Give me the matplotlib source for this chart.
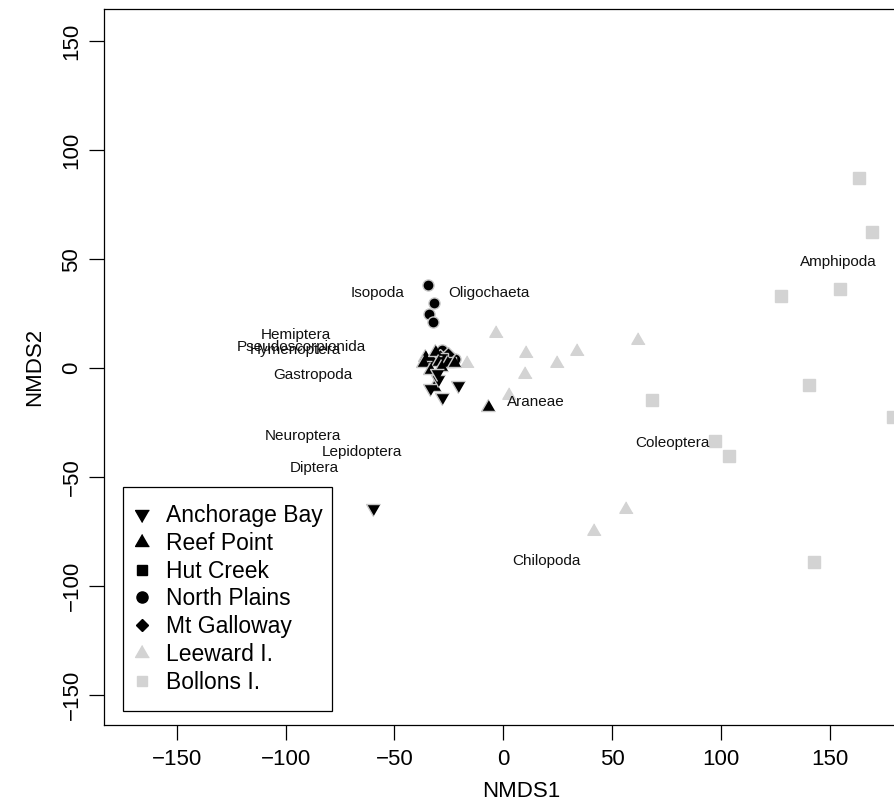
import matplotlib
matplotlib.use("Agg")
import matplotlib.pyplot as plt
from matplotlib.lines import Line2D
from matplotlib.patches import Rectangle

plt.rcParams['font.family'] = ['Liberation Sans', 'DejaVu Sans']

# site scores (NMDS1, NMDS2)
anch_x = [-29.9, -20.7, -33.7, -28.0, -30.6, -59.7]
anch_y = [-5.2, -7.8, -9.3, -13.2, -2.4, -64.4]
reef_x = [-36.0, -31.4, -36.7, -29.9, -26.0, -22.5, -31.7, -6.9, -33.7, -28.8]
reef_y = [5.2, 7.5, 2.2, 2.9, 2.4, 2.2, -8.9, -17.8, -0.9, 0.5]
hut_x = [-27.5, -24.0]
hut_y = [4.5, 3.0]
north_x = [-34.4, -31.8, -34.0, -32.2, -28.3, -24.5, -22.2]
north_y = [38.1, 29.7, 24.7, 21.0, 8.3, 4.9, 4.0]
galloway_x = [-29.0, -25.5, -33.0]
galloway_y = [5.5, 6.5, 3.5]
leeward_x = [-3.4, 10.4, 9.9, 24.5, 33.7, 61.7, -16.8, 2.5, 56.4, 41.8]
leeward_y = [16.2, 7.0, -2.9, 2.2, 7.9, 12.9, 2.4, -12.4, -64.9, -74.9]
bollons_x = [163.6, 169.5, 154.8, 127.7, 140.6, 179.0, 68.4, 97.4, 103.8, 142.7]
bollons_y = [87.1, 62.3, 36.2, 33.1, -7.9, -22.5, -14.7, -33.4, -40.4, -89.1]

# taxa scores
taxa = ['Amphipoda', 'Coleoptera', 'Chilopoda', 'Araneae', 'Isopoda', 'Oligochaeta',
        'Hemiptera', 'Pseudoscorpionida', 'Hymenoptera', 'Gastropoda',
        'Neuroptera', 'Lepidoptera', 'Diptera']
taxa_x = [153.7, 77.5, 19.6, 14.9, -57.8, -6.6, -95.3, -92.6, -95.4, -87.3, -91.9, -64.8, -86.6]
taxa_y = [48.7, -34.6, -88.7, -15.6, 34.6, 34.6, 15.2, 9.5, 8.3, -3.2, -31.2, -38.7, -46.1]

site_names = ['Anchorage Bay', 'Reef Point', 'Hut Creek', 'North Plains',
              'Mt Galloway', 'Leeward I.', 'Bollons I.']

grey = '#d3d3d3'
edge = '#c8c8c8'
tri_up = [(0, 1), (-0.866, -0.5), (0.866, -0.5)]
tri_dn = [(0, -1), (-0.866, 0.5), (0.866, 0.5)]

W, H = 895, 809
fig = plt.figure(figsize=(W / 100, H / 100), dpi=100)
ax = fig.add_axes([0.1162, 0.1042, 0.9326, 0.8847])

# grey islands first
ax.plot(leeward_x, leeward_y, linestyle='none', marker=tri_up, ms=11, color=grey, mec=grey)
ax.plot(bollons_x, bollons_y, linestyle='none', marker='s', ms=8, color=grey, mec=grey)

# black sites with light outline
kw = dict(linestyle='none', color='black', mec=edge, mew=1)
ax.plot(north_x, north_y, marker='o', ms=8, **kw)
ax.plot(galloway_x, galloway_y, marker='D', ms=7, **kw)
ax.plot(hut_x, hut_y, marker='s', ms=7.5, **kw)
ax.plot(reef_x, reef_y, marker=tri_up, ms=11.5, **kw)
ax.plot(anch_x, anch_y, marker=tri_dn, ms=11.5, **kw)

for name, x, y in zip(taxa, taxa_x, taxa_y):
    ax.text(x, y, name, fontsize=11, ha='center', va='center', color='#111111')

ax.set_xlim(-183.4, 200)
ax.set_ylim(-163.8, 164.9)
ax.set_xticks([-150, -100, -50, 0, 50, 100, 150])
ax.set_yticks([-150, -100, -50, 0, 50, 100, 150])
ax.tick_params(direction='out', length=10.5, width=0.9, labelsize=16)
ax.tick_params(axis='x', pad=7)
ax.tick_params(axis='y', pad=5)
for lbl in ax.get_yticklabels():
    lbl.set_rotation(90)
    lbl.set_va('center')
for sp in ax.spines.values():
    sp.set_linewidth(0.9)

ax.set_xlabel('NMDS1', fontsize=16, labelpad=8)
ax.set_ylabel('NMDS2', fontsize=16, labelpad=12)

# legend (frame drawn separately so the box matches the original)
handles = [
    Line2D([], [], linestyle='none', marker=tri_dn, ms=11.5, color='black'),
    Line2D([], [], linestyle='none', marker=tri_up, ms=11.5, color='black'),
    Line2D([], [], linestyle='none', marker='s', ms=7, color='black'),
    Line2D([], [], linestyle='none', marker='o', ms=8, color='black'),
    Line2D([], [], linestyle='none', marker='D', ms=6.5, color='black'),
    Line2D([], [], linestyle='none', marker=tri_up, ms=11.5, color=grey),
    Line2D([], [], linestyle='none', marker='s', ms=7, color=grey),
]
ax.legend(handles, site_names, loc='upper left',
          bbox_to_anchor=(135 / W, 1 - 504 / H), bbox_transform=fig.transFigure,
          fontsize=16.5, frameon=False, borderpad=0, labelspacing=0.21,
          handlelength=0.6, handletextpad=0.77, borderaxespad=0)
fig.patches.append(Rectangle((123 / W, 1 - 711 / H), 209 / W, 224 / H,
                             transform=fig.transFigure, fill=False,
                             edgecolor='black', linewidth=0.9, zorder=5))

fig.savefig('out.png', dpi=100)
